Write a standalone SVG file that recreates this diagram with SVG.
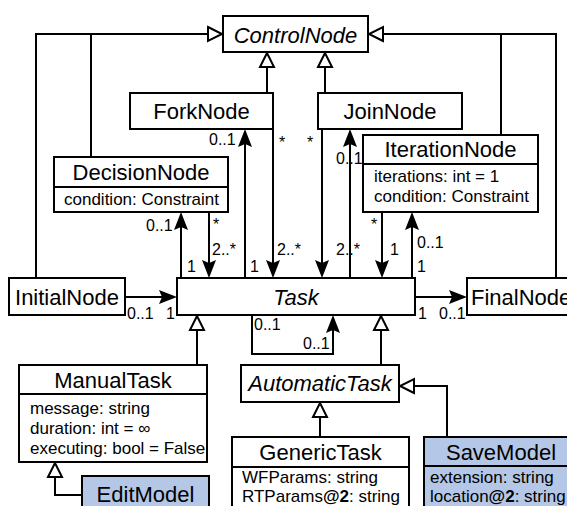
<svg xmlns="http://www.w3.org/2000/svg" width="567" height="506" viewBox="0 0 567 506">
  <style>
    .box { fill: #ffffff; stroke: #000000; stroke-width: 2; }
    .hl { fill: #b4c7e7; }
    .div { stroke: #000000; stroke-width: 2; }
    .name { font-family: "Liberation Sans", Arial, sans-serif; font-size: 22px; fill: #000; text-anchor: middle; }
    .abs { font-style: italic; }
    .attr { font-family: "Liberation Sans", Arial, sans-serif; font-size: 17px; fill: #000; }
    .mult { font-family: "Liberation Sans", Arial, sans-serif; font-size: 16px; fill: #000; }
    .edge { fill: none; stroke: #000000; stroke-width: 2; }
    .assoc { marker-end: url(#arrow); }
    .gen { marker-end: url(#hollow); }
  </style>
  <defs>
    <marker id="arrow" markerUnits="userSpaceOnUse" markerWidth="18" markerHeight="14" viewBox="0 0 18 14" refX="15" refY="7" orient="auto">
      <path d="M0,0 L18,7 L0,14 L3,7 Z" fill="#000"/>
    </marker>
    <marker id="hollow" markerUnits="userSpaceOnUse" markerWidth="20" markerHeight="20" viewBox="-3 -3 20 20" refX="15" refY="7" orient="auto">
      <path d="M0,0 L14,7 L0,14 Z" fill="#fff" stroke="#000" stroke-width="2"/>
    </marker>
  </defs>

  <!-- class nodes -->
  <g id="ControlNode">
    <rect class="box" x="223" y="16" width="145" height="36"/>
    <text class="name abs" x="295.5" y="43">ControlNode</text>
  </g>
  <g id="ForkNode">
    <rect class="box" x="130" y="93" width="143" height="36"/>
    <text class="name" x="201.5" y="119">ForkNode</text>
  </g>
  <g id="JoinNode">
    <rect class="box" x="318" y="93" width="144" height="36"/>
    <text class="name" x="390" y="119">JoinNode</text>
  </g>
  <g id="DecisionNode">
    <rect class="box" x="54" y="157" width="174" height="55"/>
    <line class="div" x1="54" y1="187" x2="228" y2="187"/>
    <text class="name" x="141" y="180">DecisionNode</text>
    <text class="attr" x="64" y="205">condition: Constraint</text>
  </g>
  <g id="IterationNode">
    <rect class="box" x="363" y="135" width="175" height="77"/>
    <line class="div" x1="363" y1="164" x2="538" y2="164"/>
    <text class="name" x="450.5" y="157">IterationNode</text>
    <text class="attr" x="374" y="182">iterations: int = 1</text>
    <text class="attr" x="374" y="202">condition: Constraint</text>
  </g>
  <g id="InitialNode">
    <rect class="box" x="9" y="278" width="116" height="37"/>
    <text class="name" x="67" y="305">InitialNode</text>
  </g>
  <g id="Task">
    <rect class="box" x="177" y="278" width="238" height="37"/>
    <text class="name abs" x="296" y="305">Task</text>
  </g>
  <g id="FinalNode">
    <rect class="box" x="467" y="278" width="120" height="37"/>
    <text class="name" x="471" y="305" style="text-anchor:start">FinalNode</text>
  </g>
  <g id="ManualTask">
    <rect class="box" x="19" y="365" width="188" height="97"/>
    <line class="div" x1="19" y1="394" x2="207" y2="394"/>
    <text class="name" x="113" y="388">ManualTask</text>
    <text class="attr" x="30" y="414">message: string</text>
    <text class="attr" x="30" y="434">duration: int = ∞</text>
    <text class="attr" x="30" y="454">executing: bool = False</text>
  </g>
  <g id="AutomaticTask">
    <rect class="box" x="241" y="365" width="158" height="37"/>
    <text class="name abs" x="320" y="391">AutomaticTask</text>
  </g>
  <g id="EditModel">
    <rect class="box hl" x="82" y="476" width="127" height="40"/>
    <text class="name" x="145.5" y="502">EditModel</text>
  </g>
  <g id="GenericTask">
    <rect class="box" x="232" y="437" width="177" height="80"/>
    <line class="div" x1="232" y1="467" x2="409" y2="467"/>
    <text class="name" x="320.5" y="460">GenericTask</text>
    <text class="attr" x="242" y="483">WFParams: string</text>
    <text class="attr" x="242" y="502">RTParams<tspan font-weight="bold">@2</tspan>: string</text>
  </g>
  <g id="SaveModel">
    <rect class="box hl" x="424" y="437" width="160" height="80"/>
    <line class="div" x1="424" y1="466" x2="584" y2="466"/>
    <text class="name" x="501" y="460">SaveModel</text>
    <text class="attr" x="430" y="483">extension: string</text>
    <text class="attr" x="430" y="502">location<tspan font-weight="bold">@2</tspan>: string</text>
  </g>

  <!-- connectors -->
  <g id="connectors">
    <!-- generalizations -->
    <path class="edge gen" d="M36,278 V34 H223"/>
    <path class="edge" d="M91,157 V34"/>
    <path class="edge gen" d="M556,278 V34 H368"/>
    <path class="edge" d="M501,135 V34"/>
    <path class="edge gen" d="M267,93 V52"/>
    <path class="edge gen" d="M325,93 V52"/>
    <path class="edge gen" d="M197,365 V315"/>
    <path class="edge gen" d="M381,365 V315"/>
    <path class="edge gen" d="M320,437 V402"/>
    <path class="edge gen" d="M82,495 H55 V462"/>
    <path class="edge gen" d="M447,437 V386 H399"/>

    <!-- associations -->
    <path class="edge assoc" d="M125,297 H174"/>
    <path class="edge assoc" d="M415,297 H464"/>
    <path class="edge assoc" d="M181,278 V215"/>
    <path class="edge assoc" d="M209,212 V275"/>
    <path class="edge assoc" d="M245,278 V132"/>
    <path class="edge assoc" d="M273,129 V275"/>
    <path class="edge assoc" d="M322,129 V275"/>
    <path class="edge assoc" d="M350,278 V132"/>
    <path class="edge assoc" d="M382,212 V275"/>
    <path class="edge assoc" d="M412,278 V215"/>
    <path class="edge assoc" d="M252,315 V354 H333 V318"/>

    <!-- multiplicities -->
    <text class="mult" x="127" y="319">0..1</text>
    <text class="mult" x="166" y="319">1</text>
    <text class="mult" x="418" y="319">1</text>
    <text class="mult" x="439" y="319">0..1</text>
    <text class="mult" x="146" y="231">0..1</text>
    <text class="mult" x="187" y="272">1</text>
    <text class="mult" x="213" y="230">*</text>
    <text class="mult" x="212" y="255">2..*</text>
    <text class="mult" x="209" y="145">0..1</text>
    <text class="mult" x="250" y="272">1</text>
    <text class="mult" x="279" y="148">*</text>
    <text class="mult" x="277" y="255">2..*</text>
    <text class="mult" x="307" y="148">*</text>
    <text class="mult" x="336" y="255">2..*</text>
    <text class="mult" x="336" y="164">0..1</text>
    <text class="mult" x="371" y="230">*</text>
    <text class="mult" x="390" y="255">1</text>
    <text class="mult" x="417" y="248">0..1</text>
    <text class="mult" x="417" y="272">1</text>
    <text class="mult" x="254" y="330">0..1</text>
    <text class="mult" x="303" y="349">0..1</text>
  </g>
</svg>
